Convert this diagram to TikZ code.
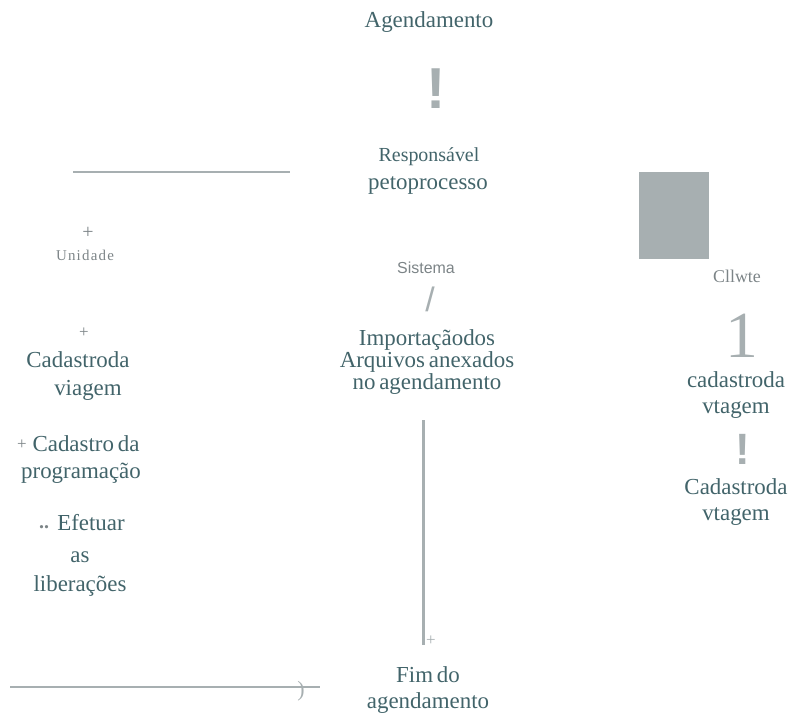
\documentclass[tikz,border=0pt]{standalone}
\usepackage{fontspec}
\setmainfont{Liberation Serif}
\setsansfont{Liberation Sans}
\definecolor{ink}{HTML}{42646A}
\definecolor{cinza}{HTML}{A7AFB1}
\definecolor{fraco}{HTML}{7C8487}
\tikzset{
  rotulo/.style={inner sep=0pt, text=ink, align=center, font=\fontsize{23}{22}\selectfont},
  miudo/.style={inner sep=0pt, text=fraco, font=\fontsize{15}{15}\selectfont},
  cruz/.style={inner sep=0pt, text=fraco, font=\fontsize{20}{20}\selectfont},
  sinal/.style={inner sep=0pt, text=cinza, font=\sffamily\bfseries\fontsize{58}{58}\selectfont},
  traco/.style={draw=cinza, line width=1.5bp}
}
\begin{document}
\begin{tikzpicture}[x=1bp, y=-1bp]
\useasboundingbox (0,0) rectangle (795,722);

%% coluna central
\node[rotulo] (agend) at (429,22) {Agendamento};
\node[sinal] (ex1) at (436,89) {!};
\node[rotulo, font=\fontsize{20}{20}\selectfont] (resp) at (429,157) {Respons\'avel};
\node[rotulo] (peto) at (428,185) {petoprocesso};
\node[miudo, font=\sffamily\fontsize{16}{16}\selectfont] (sist) at (426,268) {Sistema};
\node[inner sep=0pt, text=cinza, font=\sffamily\fontsize{34}{34}\selectfont] (barra) at (430,299) {/};
\node[rotulo] (imp) at (427,362) {Importaçãodos\\Arquivos\,anexados\\no\,agendamento};
\coordinate (fimlinha) at (423,645);
\draw[traco, line width=3bp] (423,420) -- (fimlinha);
\node[cruz, text=cinza, font=\fontsize{17}{17}\selectfont] (mais0) at (431,641) {+};
\node[rotulo, font=\fontsize{23}{26}\selectfont] (fim) at (428,690) {Fim\,do\\agendamento};

%% raia esquerda
\draw[traco] (73,172) -- (290,172);
\node[cruz] (mais1) at (88,233) {+};
\node[miudo, font=\fontsize{15}{15}\selectfont\addfontfeature{LetterSpace=8}] (unid) at (85,255) {Unidade};
\node[cruz, font=\fontsize{17}{17}\selectfont] (mais2) at (84,333) {+};
\node[rotulo] (cad1) at (78,360) {Cadastroda};
\node[rotulo] (viag1) at (88,390) {viagem};
\node[cruz, font=\fontsize{17}{17}\selectfont] (mais3) at (22,445) {+};
\node[rotulo] (cad2) at (86,444) {Cadastro\,da};
\node[rotulo] (prog) at (81,473) {programação};
\node[cruz, font=\bfseries\fontsize{20}{20}\selectfont] (pontos) at (44,527) {..};
\node[rotulo] (efet) at (91,523) {Efetuar};
\node[rotulo] (as) at (80,557) {as};
\node[rotulo] (lib) at (80,586) {liberações};
\draw[traco] (10,687) -- (320,687);
\node[inner sep=0pt, text=cinza, font=\fontsize{22}{22}\selectfont] (fecha) at (301,691) {)};

%% raia direita
\fill[cinza] (639,172) rectangle (709,259);
\node[miudo, font=\fontsize{18}{18}\selectfont] (cli) at (737,276) {Cllwte};
\node[inner sep=0pt, text=cinza, font=\fontsize{66}{66}\selectfont] (um) at (742,336) {1};
\node[rotulo, font=\fontsize{23}{27}\selectfont] (cad3) at (736,395) {cadastroda\\vtagem};
\node[sinal, font=\sffamily\bfseries\fontsize{44}{44}\selectfont] (ex2) at (743,449) {!};
\node[rotulo, font=\fontsize{23}{27}\selectfont] (cad4) at (736,502) {Cadastroda\\vtagem};

\end{tikzpicture}
\end{document}
